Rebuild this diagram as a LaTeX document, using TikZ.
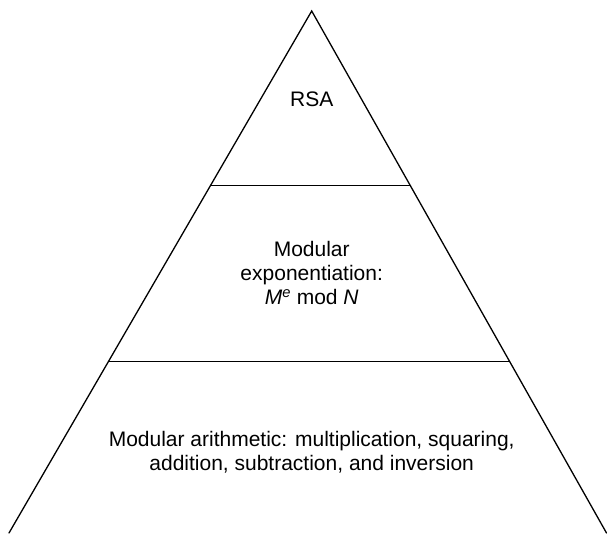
\documentclass[tikz,border=0pt]{standalone}
\usepackage{fontspec}
\setmainfont{Liberation Sans}
\usetikzlibrary{calc}
\begin{document}
\begin{tikzpicture}[x=1pt,y=1pt,
  edge/.style={line width=1.3pt, line cap=round, line join=miter},
  tier/.style={line width=1.6pt},
  label/.style={font=\fontsize{21}{24}\selectfont, align=center, anchor=base, inner sep=0pt}]
  \useasboundingbox (0,0) rectangle (607,533);
  % outline of the pyramid (open at the bottom)
  \coordinate (apex) at (311.7,522);
  \coordinate (bl) at (9,0);
  \coordinate (br) at (606.5,0);
  \draw[edge] (bl) -- (apex) -- (br);
  % dividing lines between the tiers
  \coordinate (u1) at ($(bl)!0.6657!(apex)$);
  \coordinate (u2) at ($(br)!0.6657!(apex)$);
  \coordinate (m1) at ($(bl)!0.3285!(apex)$);
  \coordinate (m2) at ($(br)!0.3285!(apex)$);
  \draw[tier] (u1) -- (u2);
  \draw[tier] (m1) -- (m2);
  % tier labels (base anchor sits on the last line)
  \node[label] (rsa) at (311.7,426.3) {RSA};
  \node[label] (modexp) at (311.7,228.3) {Modular\\exponentiation:\\\textit{M}\textsuperscript{\textit{e}} mod \textit{N}};
  \node[label] (modarith) at (311.7,63) {Modular arithmetic: multiplication, squaring,\\addition, subtraction, and inversion};
\end{tikzpicture}
\end{document}
